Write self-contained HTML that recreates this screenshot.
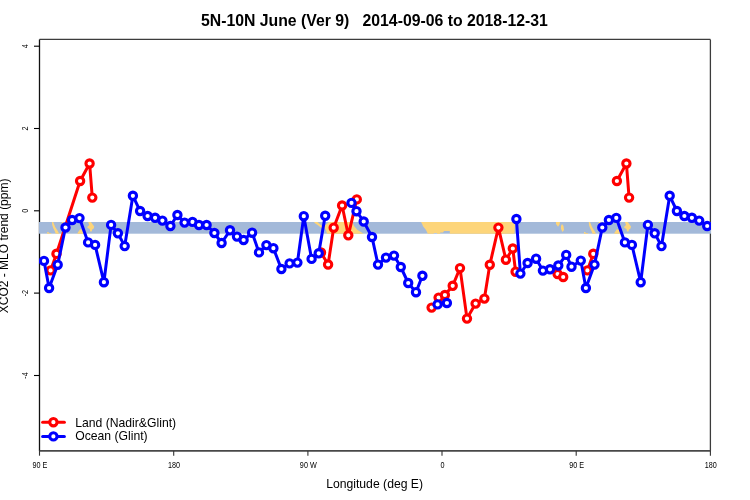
<!DOCTYPE html>
<html><head><meta charset="utf-8"><style>html,body{margin:0;padding:0;background:#fff;width:750px;height:500px;overflow:hidden}svg{display:block;will-change:transform}text{font-family:"Liberation Sans",sans-serif}</style></head><body>
<svg width="750" height="500" viewBox="0 0 750 500">
<rect width="750" height="500" fill="#fff"/>
<line x1="39.5" y1="39.4" x2="710.4" y2="39.4" stroke="#3c3c3c" stroke-width="1.3"/>
<line x1="710.4" y1="39.4" x2="710.4" y2="450.9" stroke="#3c3c3c" stroke-width="1.3"/>
<line x1="39.5" y1="39.4" x2="39.5" y2="450.9" stroke="#111" stroke-width="1.3"/>
<line x1="39.5" y1="450.9" x2="710.4" y2="450.9" stroke="#484848" stroke-width="1.9"/>
<defs><clipPath id="c"><rect x="39" y="39" width="672" height="412"/></clipPath></defs>
<g clip-path="url(#c)">
<rect x="38.9" y="222.0" width="672.2" height="11.7" fill="#a3b9d9"/>
<polygon points="421,222 515,222 514.5,233.8 449.8,233.8 449.8,231 444,231 443,232.5 440.2,232.6 440.2,233.8 437,233.8 437,233 433.8,233 433.8,233.8 427.8,233.8 426,230 423,226.2 422.2,224" fill="#fdd57a"/>
<polygon points="314,222 317.5,222 322.5,226.5 321.5,228 318,225.2 315,223.2" fill="#fdd57a"/>
<polygon points="329,222 352.5,222 354,226 357.5,230 363.7,233.8 327,233.8 326,230 323.5,227 326,224.5" fill="#fdd57a"/>
<polygon points="556,222 560,222 559.5,224.5 558,226.7 556.8,225 556,224" fill="#fdd57a"/>
<polygon points="562,224 563.5,226 564,230 562.5,232 561,229 561,226" fill="#fdd57a"/>
<polygon points="588.8,222 590,222 592,227 594.5,231 596,233.8 592.5,233.8 591.5,231 590,228 589,225" fill="#fdd57a"/>
<polygon points="584,232 585,232 586,233 588,233 588,233.8 584,233.8" fill="#fdd57a"/>
<polygon points="598.7,222 600.3,222 600.3,223.7 598.7,223.7" fill="#fdd57a"/>
<polygon points="617,229 619,230 620,233.8 614,233.8 615,232" fill="#fdd57a"/>
<polygon points="625,222 627.5,222 628.5,223 629.5,224.5 631,226.5 630.5,228.5 629,229.5 628.5,231.5 627,231.5 626.5,229 624.5,228 624,227 626,225" fill="#fdd57a"/>
<polygon points="19.2,222 23.2,222 22.7,224.5 21.2,226.7 20.0,225 19.2,224" fill="#fdd57a"/>
<polygon points="25.2,224 26.7,226 27.2,230 25.7,232 24.2,229 24.2,226" fill="#fdd57a"/>
<polygon points="52.0,222 53.2,222 55.2,227 57.7,231 59.2,233.8 55.7,233.8 54.7,231 53.2,228 52.2,225" fill="#fdd57a"/>
<polygon points="47.2,232 48.2,232 49.2,233 51.2,233 51.2,233.8 47.2,233.8" fill="#fdd57a"/>
<polygon points="61.9,222 63.5,222 63.5,223.7 61.9,223.7" fill="#fdd57a"/>
<polygon points="80.2,229 82.2,230 83.2,233.8 77.2,233.8 78.2,232" fill="#fdd57a"/>
<polygon points="88.2,222 90.7,222 91.7,223 92.7,224.5 94.2,226.5 93.7,228.5 92.2,229.5 91.7,231.5 90.2,231.5 89.7,229 87.7,228 87.2,227 89.2,225" fill="#fdd57a"/>
<polyline points="50.6,270.4 56.5,253.8 80.1,181.0 89.6,163.5 92.3,197.6" fill="none" stroke="#ff0000" stroke-width="3.0" stroke-linejoin="round" stroke-linecap="round"/>
<polyline points="321.0,252.5 328.1,264.5 333.7,227.7 342.1,205.5 348.3,235.3 356.8,199.4" fill="none" stroke="#ff0000" stroke-width="3.0" stroke-linejoin="round" stroke-linecap="round"/>
<polyline points="431.6,307.6 438.6,297.6 444.9,295.0 452.7,285.8 460.0,268.1 467.0,318.6 475.6,303.6 484.4,298.6 489.8,264.8 498.4,227.6 505.9,259.7 512.8,248.5 515.6,271.7" fill="none" stroke="#ff0000" stroke-width="3.0" stroke-linejoin="round" stroke-linecap="round"/>
<polyline points="557.6,274.0 563.2,277.0" fill="none" stroke="#ff0000" stroke-width="3.0" stroke-linejoin="round" stroke-linecap="round"/>
<polyline points="587.4,270.4 593.3,253.8" fill="none" stroke="#ff0000" stroke-width="3.0" stroke-linejoin="round" stroke-linecap="round"/>
<polyline points="616.9,181.0 626.4,163.5 629.1,197.6" fill="none" stroke="#ff0000" stroke-width="3.0" stroke-linejoin="round" stroke-linecap="round"/>
<circle cx="50.6" cy="270.4" r="3.65" fill="#fff" stroke="#ff0000" stroke-width="3.1"/>
<circle cx="56.5" cy="253.8" r="3.65" fill="#fff" stroke="#ff0000" stroke-width="3.1"/>
<circle cx="80.1" cy="181.0" r="3.65" fill="#fff" stroke="#ff0000" stroke-width="3.1"/>
<circle cx="89.6" cy="163.5" r="3.65" fill="#fff" stroke="#ff0000" stroke-width="3.1"/>
<circle cx="92.3" cy="197.6" r="3.65" fill="#fff" stroke="#ff0000" stroke-width="3.1"/>
<circle cx="321.0" cy="252.5" r="3.65" fill="#fff" stroke="#ff0000" stroke-width="3.1"/>
<circle cx="328.1" cy="264.5" r="3.65" fill="#fff" stroke="#ff0000" stroke-width="3.1"/>
<circle cx="333.7" cy="227.7" r="3.65" fill="#fff" stroke="#ff0000" stroke-width="3.1"/>
<circle cx="342.1" cy="205.5" r="3.65" fill="#fff" stroke="#ff0000" stroke-width="3.1"/>
<circle cx="348.3" cy="235.3" r="3.65" fill="#fff" stroke="#ff0000" stroke-width="3.1"/>
<circle cx="356.8" cy="199.4" r="3.65" fill="#fff" stroke="#ff0000" stroke-width="3.1"/>
<circle cx="431.6" cy="307.6" r="3.65" fill="#fff" stroke="#ff0000" stroke-width="3.1"/>
<circle cx="438.6" cy="297.6" r="3.65" fill="#fff" stroke="#ff0000" stroke-width="3.1"/>
<circle cx="444.9" cy="295.0" r="3.65" fill="#fff" stroke="#ff0000" stroke-width="3.1"/>
<circle cx="452.7" cy="285.8" r="3.65" fill="#fff" stroke="#ff0000" stroke-width="3.1"/>
<circle cx="460.0" cy="268.1" r="3.65" fill="#fff" stroke="#ff0000" stroke-width="3.1"/>
<circle cx="467.0" cy="318.6" r="3.65" fill="#fff" stroke="#ff0000" stroke-width="3.1"/>
<circle cx="475.6" cy="303.6" r="3.65" fill="#fff" stroke="#ff0000" stroke-width="3.1"/>
<circle cx="484.4" cy="298.6" r="3.65" fill="#fff" stroke="#ff0000" stroke-width="3.1"/>
<circle cx="489.8" cy="264.8" r="3.65" fill="#fff" stroke="#ff0000" stroke-width="3.1"/>
<circle cx="498.4" cy="227.6" r="3.65" fill="#fff" stroke="#ff0000" stroke-width="3.1"/>
<circle cx="505.9" cy="259.7" r="3.65" fill="#fff" stroke="#ff0000" stroke-width="3.1"/>
<circle cx="512.8" cy="248.5" r="3.65" fill="#fff" stroke="#ff0000" stroke-width="3.1"/>
<circle cx="515.6" cy="271.7" r="3.65" fill="#fff" stroke="#ff0000" stroke-width="3.1"/>
<circle cx="557.6" cy="274.0" r="3.65" fill="#fff" stroke="#ff0000" stroke-width="3.1"/>
<circle cx="563.2" cy="277.0" r="3.65" fill="#fff" stroke="#ff0000" stroke-width="3.1"/>
<circle cx="587.4" cy="270.4" r="3.65" fill="#fff" stroke="#ff0000" stroke-width="3.1"/>
<circle cx="593.3" cy="253.8" r="3.65" fill="#fff" stroke="#ff0000" stroke-width="3.1"/>
<circle cx="616.9" cy="181.0" r="3.65" fill="#fff" stroke="#ff0000" stroke-width="3.1"/>
<circle cx="626.4" cy="163.5" r="3.65" fill="#fff" stroke="#ff0000" stroke-width="3.1"/>
<circle cx="629.1" cy="197.6" r="3.65" fill="#fff" stroke="#ff0000" stroke-width="3.1"/>
<polyline points="44.0,260.9 49.1,288.0 57.7,264.7 65.5,227.5 72.1,220.0 79.5,218.1 88.1,242.4 95.1,244.9 103.9,282.2 111.1,224.9 117.9,233.3 124.7,246.1 132.9,195.8 140.1,211.0 147.6,216.0 155.1,217.8 162.4,220.6 170.4,226.0 177.4,215.0 184.6,222.6 192.5,221.9 199.0,225.0 206.6,225.0 214.4,233.0 221.6,243.0 230.0,230.3 237.0,236.6 243.6,240.0 252.1,232.7 259.0,252.4 266.4,245.1 273.4,248.2 281.4,269.0 289.6,263.4 297.4,262.6 303.8,216.2 311.6,258.9 318.7,253.3 325.2,215.8" fill="none" stroke="#0000ff" stroke-width="3.0" stroke-linejoin="round" stroke-linecap="round"/>
<polyline points="351.5,202.9 356.5,211.2 363.7,221.5 372.0,237.0 378.0,264.6 386.0,257.6 394.0,255.6 400.8,267.0 408.2,283.0 416.0,292.2 422.4,275.8" fill="none" stroke="#0000ff" stroke-width="3.0" stroke-linejoin="round" stroke-linecap="round"/>
<polyline points="437.6,304.4 446.9,303.0" fill="none" stroke="#0000ff" stroke-width="3.0" stroke-linejoin="round" stroke-linecap="round"/>
<polyline points="516.4,219.0 520.4,273.6 527.6,263.0 536.1,258.7 542.9,270.6 550.0,269.3 558.3,265.5 566.2,254.9 571.5,266.7 580.8,260.6 585.9,288.0 594.5,264.6 602.3,227.5 608.9,220.0 616.3,217.9 624.9,242.4 631.9,244.9 640.7,282.2 647.9,224.9 654.7,233.3 661.5,246.1 669.7,195.8 676.9,211.0 684.4,216.0 691.9,217.8 699.2,220.6 707.2,226.0" fill="none" stroke="#0000ff" stroke-width="3.0" stroke-linejoin="round" stroke-linecap="round"/>
<circle cx="44.0" cy="260.9" r="3.65" fill="#fff" stroke="#0000ff" stroke-width="3.1"/>
<circle cx="49.1" cy="288.0" r="3.65" fill="#fff" stroke="#0000ff" stroke-width="3.1"/>
<circle cx="57.7" cy="264.7" r="3.65" fill="#fff" stroke="#0000ff" stroke-width="3.1"/>
<circle cx="65.5" cy="227.5" r="3.65" fill="#fff" stroke="#0000ff" stroke-width="3.1"/>
<circle cx="72.1" cy="220.0" r="3.65" fill="#fff" stroke="#0000ff" stroke-width="3.1"/>
<circle cx="79.5" cy="218.1" r="3.65" fill="#fff" stroke="#0000ff" stroke-width="3.1"/>
<circle cx="88.1" cy="242.4" r="3.65" fill="#fff" stroke="#0000ff" stroke-width="3.1"/>
<circle cx="95.1" cy="244.9" r="3.65" fill="#fff" stroke="#0000ff" stroke-width="3.1"/>
<circle cx="103.9" cy="282.2" r="3.65" fill="#fff" stroke="#0000ff" stroke-width="3.1"/>
<circle cx="111.1" cy="224.9" r="3.65" fill="#fff" stroke="#0000ff" stroke-width="3.1"/>
<circle cx="117.9" cy="233.3" r="3.65" fill="#fff" stroke="#0000ff" stroke-width="3.1"/>
<circle cx="124.7" cy="246.1" r="3.65" fill="#fff" stroke="#0000ff" stroke-width="3.1"/>
<circle cx="132.9" cy="195.8" r="3.65" fill="#fff" stroke="#0000ff" stroke-width="3.1"/>
<circle cx="140.1" cy="211.0" r="3.65" fill="#fff" stroke="#0000ff" stroke-width="3.1"/>
<circle cx="147.6" cy="216.0" r="3.65" fill="#fff" stroke="#0000ff" stroke-width="3.1"/>
<circle cx="155.1" cy="217.8" r="3.65" fill="#fff" stroke="#0000ff" stroke-width="3.1"/>
<circle cx="162.4" cy="220.6" r="3.65" fill="#fff" stroke="#0000ff" stroke-width="3.1"/>
<circle cx="170.4" cy="226.0" r="3.65" fill="#fff" stroke="#0000ff" stroke-width="3.1"/>
<circle cx="177.4" cy="215.0" r="3.65" fill="#fff" stroke="#0000ff" stroke-width="3.1"/>
<circle cx="184.6" cy="222.6" r="3.65" fill="#fff" stroke="#0000ff" stroke-width="3.1"/>
<circle cx="192.5" cy="221.9" r="3.65" fill="#fff" stroke="#0000ff" stroke-width="3.1"/>
<circle cx="199.0" cy="225.0" r="3.65" fill="#fff" stroke="#0000ff" stroke-width="3.1"/>
<circle cx="206.6" cy="225.0" r="3.65" fill="#fff" stroke="#0000ff" stroke-width="3.1"/>
<circle cx="214.4" cy="233.0" r="3.65" fill="#fff" stroke="#0000ff" stroke-width="3.1"/>
<circle cx="221.6" cy="243.0" r="3.65" fill="#fff" stroke="#0000ff" stroke-width="3.1"/>
<circle cx="230.0" cy="230.3" r="3.65" fill="#fff" stroke="#0000ff" stroke-width="3.1"/>
<circle cx="237.0" cy="236.6" r="3.65" fill="#fff" stroke="#0000ff" stroke-width="3.1"/>
<circle cx="243.6" cy="240.0" r="3.65" fill="#fff" stroke="#0000ff" stroke-width="3.1"/>
<circle cx="252.1" cy="232.7" r="3.65" fill="#fff" stroke="#0000ff" stroke-width="3.1"/>
<circle cx="259.0" cy="252.4" r="3.65" fill="#fff" stroke="#0000ff" stroke-width="3.1"/>
<circle cx="266.4" cy="245.1" r="3.65" fill="#fff" stroke="#0000ff" stroke-width="3.1"/>
<circle cx="273.4" cy="248.2" r="3.65" fill="#fff" stroke="#0000ff" stroke-width="3.1"/>
<circle cx="281.4" cy="269.0" r="3.65" fill="#fff" stroke="#0000ff" stroke-width="3.1"/>
<circle cx="289.6" cy="263.4" r="3.65" fill="#fff" stroke="#0000ff" stroke-width="3.1"/>
<circle cx="297.4" cy="262.6" r="3.65" fill="#fff" stroke="#0000ff" stroke-width="3.1"/>
<circle cx="303.8" cy="216.2" r="3.65" fill="#fff" stroke="#0000ff" stroke-width="3.1"/>
<circle cx="311.6" cy="258.9" r="3.65" fill="#fff" stroke="#0000ff" stroke-width="3.1"/>
<circle cx="318.7" cy="253.3" r="3.65" fill="#fff" stroke="#0000ff" stroke-width="3.1"/>
<circle cx="325.2" cy="215.8" r="3.65" fill="#fff" stroke="#0000ff" stroke-width="3.1"/>
<circle cx="351.5" cy="202.9" r="3.65" fill="#fff" stroke="#0000ff" stroke-width="3.1"/>
<circle cx="356.5" cy="211.2" r="3.65" fill="#fff" stroke="#0000ff" stroke-width="3.1"/>
<circle cx="363.7" cy="221.5" r="3.65" fill="#fff" stroke="#0000ff" stroke-width="3.1"/>
<circle cx="372.0" cy="237.0" r="3.65" fill="#fff" stroke="#0000ff" stroke-width="3.1"/>
<circle cx="378.0" cy="264.6" r="3.65" fill="#fff" stroke="#0000ff" stroke-width="3.1"/>
<circle cx="386.0" cy="257.6" r="3.65" fill="#fff" stroke="#0000ff" stroke-width="3.1"/>
<circle cx="394.0" cy="255.6" r="3.65" fill="#fff" stroke="#0000ff" stroke-width="3.1"/>
<circle cx="400.8" cy="267.0" r="3.65" fill="#fff" stroke="#0000ff" stroke-width="3.1"/>
<circle cx="408.2" cy="283.0" r="3.65" fill="#fff" stroke="#0000ff" stroke-width="3.1"/>
<circle cx="416.0" cy="292.2" r="3.65" fill="#fff" stroke="#0000ff" stroke-width="3.1"/>
<circle cx="422.4" cy="275.8" r="3.65" fill="#fff" stroke="#0000ff" stroke-width="3.1"/>
<circle cx="437.6" cy="304.4" r="3.65" fill="#fff" stroke="#0000ff" stroke-width="3.1"/>
<circle cx="446.9" cy="303.0" r="3.65" fill="#fff" stroke="#0000ff" stroke-width="3.1"/>
<circle cx="516.4" cy="219.0" r="3.65" fill="#fff" stroke="#0000ff" stroke-width="3.1"/>
<circle cx="520.4" cy="273.6" r="3.65" fill="#fff" stroke="#0000ff" stroke-width="3.1"/>
<circle cx="527.6" cy="263.0" r="3.65" fill="#fff" stroke="#0000ff" stroke-width="3.1"/>
<circle cx="536.1" cy="258.7" r="3.65" fill="#fff" stroke="#0000ff" stroke-width="3.1"/>
<circle cx="542.9" cy="270.6" r="3.65" fill="#fff" stroke="#0000ff" stroke-width="3.1"/>
<circle cx="550.0" cy="269.3" r="3.65" fill="#fff" stroke="#0000ff" stroke-width="3.1"/>
<circle cx="558.3" cy="265.5" r="3.65" fill="#fff" stroke="#0000ff" stroke-width="3.1"/>
<circle cx="566.2" cy="254.9" r="3.65" fill="#fff" stroke="#0000ff" stroke-width="3.1"/>
<circle cx="571.5" cy="266.7" r="3.65" fill="#fff" stroke="#0000ff" stroke-width="3.1"/>
<circle cx="580.8" cy="260.6" r="3.65" fill="#fff" stroke="#0000ff" stroke-width="3.1"/>
<circle cx="585.9" cy="288.0" r="3.65" fill="#fff" stroke="#0000ff" stroke-width="3.1"/>
<circle cx="594.5" cy="264.6" r="3.65" fill="#fff" stroke="#0000ff" stroke-width="3.1"/>
<circle cx="602.3" cy="227.5" r="3.65" fill="#fff" stroke="#0000ff" stroke-width="3.1"/>
<circle cx="608.9" cy="220.0" r="3.65" fill="#fff" stroke="#0000ff" stroke-width="3.1"/>
<circle cx="616.3" cy="217.9" r="3.65" fill="#fff" stroke="#0000ff" stroke-width="3.1"/>
<circle cx="624.9" cy="242.4" r="3.65" fill="#fff" stroke="#0000ff" stroke-width="3.1"/>
<circle cx="631.9" cy="244.9" r="3.65" fill="#fff" stroke="#0000ff" stroke-width="3.1"/>
<circle cx="640.7" cy="282.2" r="3.65" fill="#fff" stroke="#0000ff" stroke-width="3.1"/>
<circle cx="647.9" cy="224.9" r="3.65" fill="#fff" stroke="#0000ff" stroke-width="3.1"/>
<circle cx="654.7" cy="233.3" r="3.65" fill="#fff" stroke="#0000ff" stroke-width="3.1"/>
<circle cx="661.5" cy="246.1" r="3.65" fill="#fff" stroke="#0000ff" stroke-width="3.1"/>
<circle cx="669.7" cy="195.8" r="3.65" fill="#fff" stroke="#0000ff" stroke-width="3.1"/>
<circle cx="676.9" cy="211.0" r="3.65" fill="#fff" stroke="#0000ff" stroke-width="3.1"/>
<circle cx="684.4" cy="216.0" r="3.65" fill="#fff" stroke="#0000ff" stroke-width="3.1"/>
<circle cx="691.9" cy="217.8" r="3.65" fill="#fff" stroke="#0000ff" stroke-width="3.1"/>
<circle cx="699.2" cy="220.6" r="3.65" fill="#fff" stroke="#0000ff" stroke-width="3.1"/>
<circle cx="707.2" cy="226.0" r="3.65" fill="#fff" stroke="#0000ff" stroke-width="3.1"/>
</g>
<line x1="34" y1="46.2" x2="39.5" y2="46.2" stroke="#000" stroke-width="1.1"/>
<text transform="translate(27.9 46.2) rotate(-90) scale(0.86 1)" text-anchor="middle" font-size="8.4" font-family="Liberation Sans, sans-serif" fill="#000">4</text>
<line x1="34" y1="128.5" x2="39.5" y2="128.5" stroke="#000" stroke-width="1.1"/>
<text transform="translate(27.9 128.5) rotate(-90) scale(0.86 1)" text-anchor="middle" font-size="8.4" font-family="Liberation Sans, sans-serif" fill="#000">2</text>
<line x1="34" y1="210.8" x2="39.5" y2="210.8" stroke="#000" stroke-width="1.1"/>
<text transform="translate(27.9 210.8) rotate(-90) scale(0.86 1)" text-anchor="middle" font-size="8.4" font-family="Liberation Sans, sans-serif" fill="#000">0</text>
<line x1="34" y1="293.1" x2="39.5" y2="293.1" stroke="#000" stroke-width="1.1"/>
<text transform="translate(27.9 293.1) rotate(-90) scale(0.86 1)" text-anchor="middle" font-size="8.4" font-family="Liberation Sans, sans-serif" fill="#000">-2</text>
<line x1="34" y1="375.5" x2="39.5" y2="375.5" stroke="#000" stroke-width="1.1"/>
<text transform="translate(27.9 375.5) rotate(-90) scale(0.86 1)" text-anchor="middle" font-size="8.4" font-family="Liberation Sans, sans-serif" fill="#000">-4</text>
<line x1="39.5" y1="450.9" x2="39.5" y2="455.7" stroke="#333" stroke-width="1.1"/>
<text transform="translate(39.9 467.9) scale(0.86 1)" text-anchor="middle" font-size="8.4" font-family="Liberation Sans, sans-serif" fill="#000">90 E</text>
<line x1="173.7" y1="450.9" x2="173.7" y2="455.7" stroke="#333" stroke-width="1.1"/>
<text transform="translate(174.1 467.9) scale(0.86 1)" text-anchor="middle" font-size="8.4" font-family="Liberation Sans, sans-serif" fill="#000">180</text>
<line x1="307.9" y1="450.9" x2="307.9" y2="455.7" stroke="#333" stroke-width="1.1"/>
<text transform="translate(308.29999999999995 467.9) scale(0.86 1)" text-anchor="middle" font-size="8.4" font-family="Liberation Sans, sans-serif" fill="#000">90 W</text>
<line x1="442.0" y1="450.9" x2="442.0" y2="455.7" stroke="#333" stroke-width="1.1"/>
<text transform="translate(442.4 467.9) scale(0.86 1)" text-anchor="middle" font-size="8.4" font-family="Liberation Sans, sans-serif" fill="#000">0</text>
<line x1="576.2" y1="450.9" x2="576.2" y2="455.7" stroke="#333" stroke-width="1.1"/>
<text transform="translate(576.6 467.9) scale(0.86 1)" text-anchor="middle" font-size="8.4" font-family="Liberation Sans, sans-serif" fill="#000">90 E</text>
<line x1="710.4" y1="450.9" x2="710.4" y2="455.7" stroke="#333" stroke-width="1.1"/>
<text transform="translate(710.8 467.9) scale(0.86 1)" text-anchor="middle" font-size="8.4" font-family="Liberation Sans, sans-serif" fill="#000">180</text>
<text x="374.4" y="26" text-anchor="middle" font-size="15.8" font-weight="bold" font-family="Liberation Sans, sans-serif" fill="#000" xml:space="preserve">5N-10N June (Ver 9)   2014-09-06 to 2018-12-31</text>
<text x="374.6" y="487.9" text-anchor="middle" font-size="12.2" font-family="Liberation Sans, sans-serif" fill="#000">Longitude (deg E)</text>
<text x="8.4" y="245.9" transform="rotate(-90 8.4 245.9)" text-anchor="middle" font-size="12" font-family="Liberation Sans, sans-serif" fill="#000">XCO2 - MLO trend (ppm)</text>
<line x1="42.6" y1="422.2" x2="64.4" y2="422.2" stroke="#ff0000" stroke-width="3.0" stroke-linecap="round"/>
<circle cx="53.4" cy="422.2" r="3.65" fill="#fff" stroke="#ff0000" stroke-width="3.1"/>
<text x="75.2" y="426.7" font-size="12.2" font-family="Liberation Sans, sans-serif" fill="#000">Land (Nadir&amp;Glint)</text>
<line x1="42.6" y1="436.4" x2="64.4" y2="436.4" stroke="#0000ff" stroke-width="3.0" stroke-linecap="round"/>
<circle cx="53.4" cy="436.4" r="3.65" fill="#fff" stroke="#0000ff" stroke-width="3.1"/>
<text x="75.2" y="440.4" font-size="12.2" font-family="Liberation Sans, sans-serif" fill="#000">Ocean (Glint)</text>
</svg>
</body></html>
